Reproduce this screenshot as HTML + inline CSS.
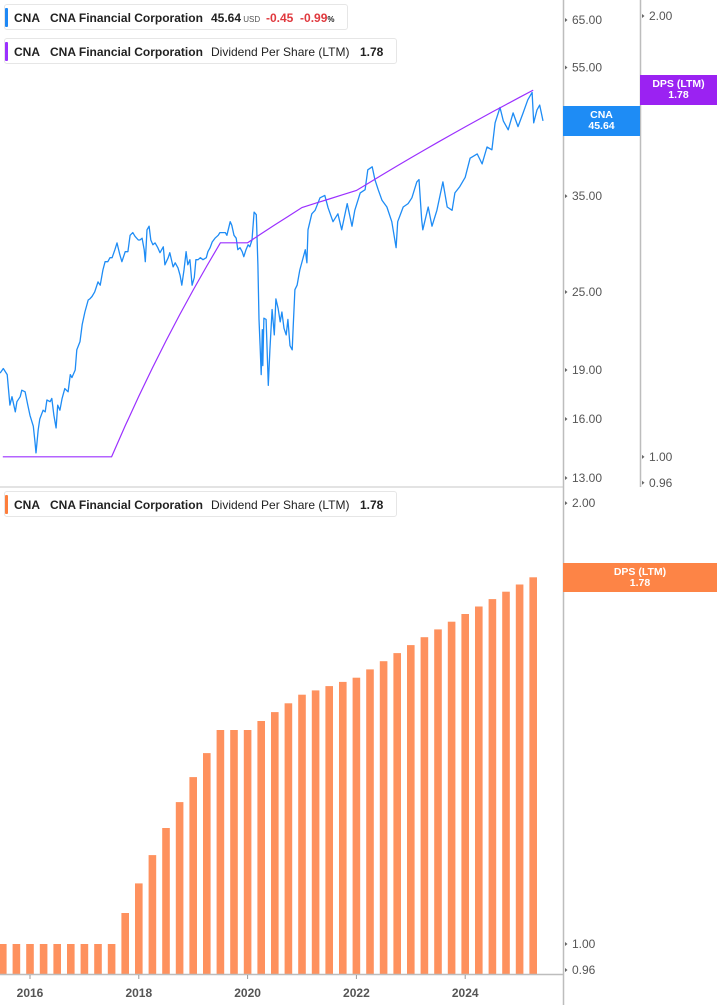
<!DOCTYPE html>
<html><head><meta charset="utf-8">
<style>
html,body{margin:0;padding:0;background:#fff;}
body{width:717px;height:1005px;overflow:hidden;position:relative;font-family:"Liberation Sans",sans-serif;}
.legend{position:absolute;left:4px;height:26px;background:#fff;border:1px solid #e6e6e6;border-radius:3px;box-sizing:border-box;}
.legend .sw{position:absolute;left:0;top:3px;width:3px;height:19px;border-radius:1px;}
.legend span{position:absolute;top:6px;font-size:12px;color:#222;white-space:nowrap;}
.b{font-weight:bold;}
.tag{position:absolute;color:#fff;font-weight:bold;font-size:10.5px;text-align:center;line-height:11px;}
</style></head>
<body>
<svg id="chart" width="717" height="1005" style="position:absolute;left:0;top:0">
  <g id="topPrice"></g>
  <g id="bottomBars"></g>
  <g id="axes"></g>
</svg>

<div class="legend" style="top:4px;width:344px">
  <div class="sw" style="background:#1e88f5"></div>
  <span class="b" style="left:9px">CNA</span>
  <span class="b" style="left:45px">CNA Financial Corporation</span>
  <span class="b" style="left:206px">45.64<span style="position:static;font-size:8px;color:#555;font-weight:normal"> USD</span></span>
  <span class="b" style="left:261px;color:#e0393e">-0.45&nbsp; -0.99<span style="position:static;font-size:8px">%</span></span>
</div>
<div class="legend" style="top:38px;width:393px">
  <div class="sw" style="background:#9b30ff"></div>
  <span class="b" style="left:9px">CNA</span>
  <span class="b" style="left:45px">CNA Financial Corporation</span>
  <span style="left:206px">Dividend Per Share (LTM)</span>
  <span class="b" style="left:355px">1.78</span>
</div>
<div class="legend" style="top:491px;width:393px">
  <div class="sw" style="background:#fd7e3c"></div>
  <span class="b" style="left:9px">CNA</span>
  <span class="b" style="left:45px">CNA Financial Corporation</span>
  <span style="left:206px">Dividend Per Share (LTM)</span>
  <span class="b" style="left:355px">1.78</span>
</div>

<div class="tag" style="left:563px;top:106px;width:77px;height:30px;background:#1e8cf5;padding-top:4px;box-sizing:border-box">CNA<br>45.64</div>
<div class="tag" style="left:640px;top:75px;width:77px;height:30px;background:#9b22f2;padding-top:4px;box-sizing:border-box">DPS (LTM)<br>1.78</div>
<div class="tag" style="left:563px;top:563px;width:154px;height:29px;background:#fd8446;padding-top:4px;box-sizing:border-box">DPS (LTM)<br>1.78</div>

<script>
const priceDates = [2015.45,2015.51,2015.58,2015.63,2015.67,2015.73,2015.76,2015.82,2015.85,2015.91,2015.96,2016.00,2016.06,2016.09,2016.11,2016.15,2016.18,2016.24,2016.28,2016.31,2016.37,2016.40,2016.44,2016.48,2016.51,2016.55,2016.59,2016.64,2016.70,2016.74,2016.77,2016.83,2016.86,2016.92,2016.96,2017.01,2017.07,2017.10,2017.14,2017.19,2017.25,2017.29,2017.34,2017.38,2017.43,2017.47,2017.51,2017.56,2017.60,2017.65,2017.69,2017.75,2017.80,2017.84,2017.89,2017.93,2017.99,2018.02,2018.06,2018.10,2018.12,2018.15,2018.19,2018.22,2018.26,2018.30,2018.35,2018.39,2018.45,2018.48,2018.54,2018.57,2018.63,2018.67,2018.72,2018.76,2018.79,2018.83,2018.87,2018.90,2018.94,2018.98,2019.02,2019.05,2019.09,2019.13,2019.18,2019.24,2019.27,2019.31,2019.35,2019.40,2019.46,2019.49,2019.53,2019.59,2019.62,2019.68,2019.71,2019.75,2019.79,2019.82,2019.86,2019.90,2019.93,2019.97,2020.01,2020.04,2020.08,2020.12,2020.16,2020.17,2020.19,2020.21,2020.23,2020.25,2020.27,2020.28,2020.30,2020.34,2020.38,2020.41,2020.45,2020.49,2020.52,2020.56,2020.60,2020.63,2020.67,2020.71,2020.74,2020.78,2020.82,2020.84,2020.87,2020.91,2020.96,2021.06,2021.09,2021.11,2021.18,2021.24,2021.33,2021.42,2021.48,2021.57,2021.66,2021.73,2021.83,2021.92,2021.97,2022.07,2022.16,2022.21,2022.29,2022.34,2022.40,2022.47,2022.56,2022.65,2022.73,2022.76,2022.86,2022.95,2023.02,2023.11,2023.15,2023.20,2023.22,2023.32,2023.39,2023.48,2023.59,2023.67,2023.76,2023.81,2023.90,2024.00,2024.09,2024.22,2024.31,2024.40,2024.49,2024.55,2024.64,2024.70,2024.79,2024.88,2024.97,2025.06,2025.15,2025.23,2025.26,2025.32,2025.37,2025.43];
const prices = [18.8,19.1,18.7,16.8,17.3,16.4,17.0,17.3,17.7,17.6,16.8,16.2,15.6,14.8,14.2,15.4,16.0,16.5,16.4,17.1,17.0,17.2,16.2,15.5,16.8,16.5,17.2,17.8,17.6,18.7,18.5,19.0,20.4,21.0,22.3,23.3,24.3,24.4,24.6,25.0,25.9,25.6,27.0,27.8,27.8,28.2,28.2,29.0,29.7,28.5,27.8,28.8,28.8,30.5,30.8,30.4,30.0,30.0,30.2,29.0,27.8,31.1,31.5,30.0,29.5,29.7,29.2,28.7,29.3,27.5,28.2,28.7,27.3,27.7,27.2,26.5,25.6,27.0,28.8,27.5,28.0,25.6,26.3,28.0,28.0,28.2,28.0,28.2,28.8,29.2,29.8,30.2,30.5,30.8,30.8,30.8,30.5,32.0,31.6,30.5,30.2,29.0,29.2,28.8,28.3,29.0,29.5,29.3,30.0,33.1,32.8,31.1,27.5,22.7,20.7,18.7,21.9,19.3,22.8,22.7,18.0,20.4,23.5,21.5,24.4,23.6,22.5,23.3,22.0,21.5,22.7,20.7,20.4,22.3,25.2,25.6,27.0,29.0,27.7,31.1,32.9,33.3,34.8,35.1,33.6,32.0,32.9,31.1,34.1,31.5,33.3,35.4,35.8,38.4,38.8,37.1,35.8,34.5,33.7,32.0,29.2,32.0,33.7,34.1,34.8,36.8,37.1,32.2,31.1,33.7,31.5,33.3,36.8,33.7,33.3,35.4,36.2,37.4,40.0,40.6,39.2,41.6,41.2,45.3,47.8,45.6,44.2,46.9,44.7,46.8,49.1,50.4,45.3,47.4,48.2,45.6];
const dpsQuarters = ["2015Q3","2015Q4","2016Q1","2016Q2","2016Q3","2016Q4","2017Q1","2017Q2","2017Q3","2017Q4","2018Q1","2018Q2","2018Q3","2018Q4","2019Q1","2019Q2","2019Q3","2019Q4","2020Q1","2020Q2","2020Q3","2020Q4","2021Q1","2021Q2","2021Q3","2021Q4","2022Q1","2022Q2","2022Q3","2022Q4","2023Q1","2023Q2","2023Q3","2023Q4","2024Q1","2024Q2","2024Q3","2024Q4","2025Q1","2025Q2"];
const dpsValues = [1.00,1.00,1.00,1.00,1.00,1.00,1.00,1.00,1.00,1.05,1.10,1.15,1.20,1.25,1.30,1.35,1.40,1.40,1.40,1.42,1.44,1.46,1.48,1.49,1.50,1.51,1.52,1.54,1.56,1.58,1.60,1.62,1.64,1.66,1.68,1.70,1.72,1.74,1.76,1.78];
const priceTicks = [65,55,35,25,19,16,13];
const dpsTicksTop = [2.00,1.00,0.96];
const dpsTicksBottom = [2.00,1.00,0.96];
const yearTicks = [2016,2018,2020,2022,2024];

const NS = "http://www.w3.org/2000/svg";
function mk(tag, attrs, parent){const e=document.createElementNS(NS,tag);for(const k in attrs)e.setAttribute(k,attrs[k]);parent.appendChild(e);return e;}
const xOf = d => 30 + 54.4*(d-2016);
const qx = (q,i) => xOf(2015.5 + 0.25*i);
const yPrice = p => 20 + 284.6*Math.log(65/p);
const yDpsTop = v => 16 + 636*Math.log(2/v);
const yDpsBot = v => 944 - 636*Math.log(v);

const topG = document.getElementById('topPrice');
const botG = document.getElementById('bottomBars');
const axG = document.getElementById('axes');

let d = priceDates.map((t,i)=>(i?'L':'M')+xOf(t).toFixed(1)+' '+yPrice(prices[i]).toFixed(1)).join(' ');
const pl = mk('path',{d:d,fill:'none',stroke:'#1e8cf5','stroke-width':1.3,'stroke-linejoin':'round'},topG);



let d2 = dpsQuarters.map((q,i)=>(i?'L':'M')+qx(q,i).toFixed(1)+' '+yDpsTop(dpsValues[i]).toFixed(1)).join(' ');
const dl = mk('path',{d:d2,fill:'none',stroke:'#9b30ff','stroke-width':1.2},topG);



dpsQuarters.forEach((q,i)=>{
  const x = qx(q,i), y = yDpsBot(dpsValues[i]);
  const r = mk('rect',{x:(x-3.8).toFixed(1),y:y.toFixed(1),width:7.6,height:(974-y).toFixed(1),fill:'#fe915e'},botG);
  
  
});

mk('rect',{x:0,y:486,width:563,height:2,fill:'#e3e3e3'},axG);
mk('line',{x1:0,y1:974.5,x2:563,y2:974.5,stroke:'#bdbdbd','stroke-width':1.5},axG);
mk('line',{x1:563.5,y1:0,x2:563.5,y2:1005,stroke:'#bdbdbd','stroke-width':1.5},axG);
mk('line',{x1:640.5,y1:0,x2:640.5,y2:487,stroke:'#bdbdbd','stroke-width':1.5},axG);

function tick(x,y,label,name){
  const g = mk('g',{},axG);
  
  
  mk('path',{d:`M${x+2} ${y-2} L${x+4.5} ${y} L${x+2} ${y+2} Z`,fill:'#666'},g);
  const t = mk('text',{x:x+9,y:y+4,'font-size':12,fill:'#555','font-family':'Liberation Sans, sans-serif'},g);
  t.textContent = label;
}
priceTicks.forEach(p=>tick(563,yPrice(p),p.toFixed(2),'price-tick-'+p));
dpsTicksTop.forEach(v=>tick(640,yDpsTop(v),v.toFixed(2),'dps-top-tick-'+v));
dpsTicksBottom.forEach(v=>tick(563,yDpsBot(v),v.toFixed(2),'dps-bottom-tick-'+v));
yearTicks.forEach(yr=>{
  const x = xOf(yr);
  mk('line',{x1:x,y1:975,x2:x,y2:979,stroke:'#999'},axG);
  const t = mk('text',{x:x,y:997,'font-size':12,'font-weight':'bold',fill:'#555','text-anchor':'middle','font-family':'Liberation Sans, sans-serif'},axG);
  
  
  t.textContent = yr;
});
</script>
</body></html>
